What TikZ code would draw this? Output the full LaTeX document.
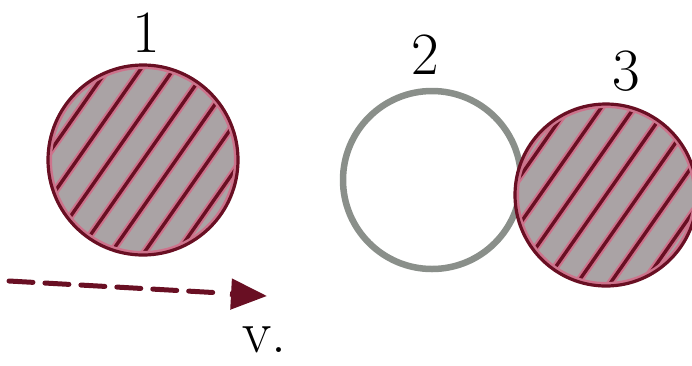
\documentclass[tikz,border=0pt]{standalone}
\usetikzlibrary{arrows.meta,calc}
\definecolor{maroon}{RGB}{105,15,35}
\definecolor{rosepink}{RGB}{205,115,140}
\definecolor{ballgray}{RGB}{170,163,165}
\definecolor{ringgray}{RGB}{138,143,138}
\tikzset{
  ball/.style={circle, minimum size=#1, inner sep=0pt, fill=ballgray},
  ring/.style={circle, minimum size=#1, inner sep=0pt, draw=ringgray, line width=6.5pt, fill=white},
  hatchhalo/.style={rosepink, line width=7.5pt},
  hatchline/.style={maroon, line width=3.4pt},
  rimhalo/.style={rosepink, line width=8pt},
  rimline/.style={maroon, line width=3.2pt},
  numlabel/.style={font=\fontsize{60}{62}\selectfont, inner sep=0pt},
  vel/.style={maroon, line width=5pt, dash pattern=on 24pt off 12pt, line cap=round},
  veltip/.style={maroon, line width=5pt, -{Triangle[length=36pt,width=30pt]}},
}
\begin{document}
\begin{tikzpicture}[x=1pt,y=-1pt]
\useasboundingbox (0,0) rectangle (692,365);
% balls
\node[ball=190pt] (c1) at (143,160) {};
\node[ring=178pt] (c2) at (432,180) {};
\node[ball=182pt] (c3) at (606,195) {};
% hatching
\foreach \c/\r in {c1/95,c3/91}{
  \begin{scope}
    \clip (\c.center) circle (\r);
    \foreach \k in {-4,...,4}{
      \draw[hatchhalo] ([shift={(\k*33-75,107)}]\c.center) -- ++(150,-214);
    }
    \foreach \k in {-4,...,4}{
      \draw[hatchline] ([shift={(\k*33-75,107)}]\c.center) -- ++(150,-214);
    }
    \draw[rimhalo] (\c.center) circle (\r);
  \end{scope}
  \draw[rimline] (\c.center) circle (\r);
}
% labels
\node[numlabel] (l1) at (146,33) {1};
\node[numlabel] (l2) at (425,55) {2};
\node[numlabel] (l3) at (626,71) {3};
% velocity arrow
\coordinate (vs) at (9,281);
\coordinate (ve) at (222,293);
\coordinate (vh) at (230,294);
\coordinate (vt) at (267,296);
\draw[vel] (vs) -- (ve);
\draw[veltip] (vh) -- (vt);
\node[numlabel, anchor=base west] (v) at (242,352) {v.};
\end{tikzpicture}
\end{document}
